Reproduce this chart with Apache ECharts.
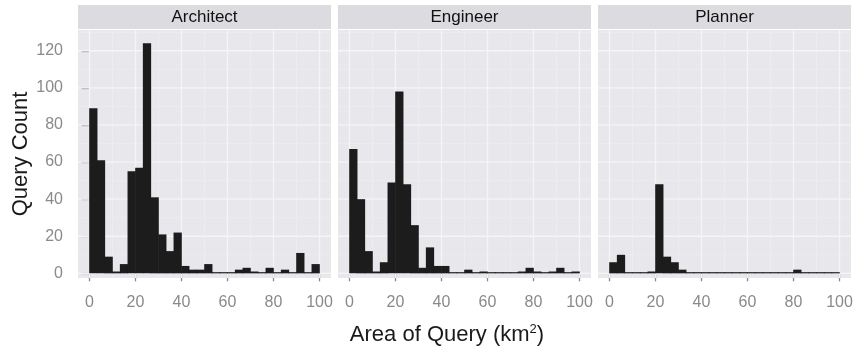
<!DOCTYPE html>
<html>
<head>
<meta charset="utf-8">
<script src="https://cdn.jsdelivr.net/npm/echarts@6/dist/echarts.min.js"></script>
<style>html,body{margin:0;padding:0;background:#fff}#c{width:864px;height:351px}</style>
</head>
<body>
<div id="c"></div>
<script>
// ---- data ----
const facets = ['Architect', 'Engineer', 'Planner'];
const binCount = 30;
const binMin = 0, binMax = 100;
const architectCounts = [89,61,9,1,5,55,57,124,41,21,12,22,4,2,2,5,0,0,0,2,3,1,0,3,0,2,0,11,0,5];
const engineerCounts  = [67,40,12,1,6,49,98,48,26,3,14,4,4,0,0,2,0,1,0,0,0,0,1,3,1,0,1,3,0,1];
const plannerCounts   = [6,10,0,0,0,1,48,9,6,2,0,0,0,0,0,0,0,0,0,0,0,0,0,0,2,0,0,0,0,0];
const xTicks = [0, 20, 40, 60, 80, 100];
const xMinor = [10, 30, 50, 70, 90];
const yTicks = [0, 20, 40, 60, 80, 100, 120];
const yMinor = [10, 30, 50, 70, 90, 110, 130];
const xTitle = 'Area of Query (km{sup|2})';
const yTitle = 'Query Count';

const countsList = [architectCounts, engineerCounts, plannerCounts];
const binW = (binMax - binMin) / binCount;

const FONT = 'Liberation Sans, Arial, Helvetica, sans-serif';
const panelLeft = [78, 338, 598];
const panelW = 253, panelTop = 30, panelH = 248;
const X_MIN = -5, X_MAX = 105, Y_MIN = -2.5, Y_MAX = 131.2;

const grids = [], xAxes = [], yAxes = [], series = [], graphics = [];

facets.forEach((name, i) => {
  grids.push({ left: panelLeft[i], top: panelTop, width: panelW, height: panelH,
    show: true, backgroundColor: '#e8e8ec', borderWidth: 0 });
  xAxes.push({
    type: 'value', gridIndex: i, min: X_MIN, max: X_MAX, offset: 4,
    axisLine: { show: false },
    axisTick: { show: true, length: 8, customValues: xTicks, lineStyle: { color: '#8a8a8a', width: 1.3 } },
    axisLabel: { customValues: xTicks, margin: 13, fontSize: 16, color: '#8a8a8a', fontFamily: FONT },
    splitLine: { show: false }
  });
  yAxes.push({
    type: 'value', gridIndex: i, min: Y_MIN, max: Y_MAX, offset: 3,
    axisLine: { show: false },
    axisTick: { show: i === 0, length: 8, customValues: yTicks, lineStyle: { color: '#8a8a8a', width: 1.3 } },
    axisLabel: { show: i === 0, customValues: yTicks, margin: 12, fontSize: 16, color: '#8a8a8a', fontFamily: FONT },
    splitLine: { show: false },
    name: i === 0 ? yTitle : '', nameLocation: 'middle', nameGap: 40,
    nameTextStyle: { fontSize: 22, color: '#1a1a1a', fontFamily: FONT }
  });
  // grid lines (white) drawn through the axes' scales
  const gridData = [];
  xTicks.forEach(v => gridData.push([v, 'x', 1.3]));
  xMinor.forEach(v => gridData.push([v, 'x', 0.6]));
  yTicks.forEach(v => gridData.push([v, 'y', 1.3]));
  yMinor.forEach(v => gridData.push([v, 'y', 0.6]));
  series.push({
    type: 'custom', xAxisIndex: i, yAxisIndex: i, z: 1, silent: true,
    data: gridData,
    renderItem: (params, api) => {
      const cs = params.coordSys;
      const v = api.value(0), dir = gridData[params.dataIndex][1], w = gridData[params.dataIndex][2];
      let shape;
      if (dir === 'x') {
        const x = api.coord([v, 0])[0];
        shape = { x1: x, y1: cs.y, x2: x, y2: cs.y + cs.height };
      } else {
        const y = api.coord([0, v])[1];
        shape = { x1: cs.x, y1: y, x2: cs.x + cs.width, y2: y };
      }
      return { type: 'line', shape, style: { stroke: w > 1 ? '#f5f5f7' : '#f0f0f3', lineWidth: w } };
    }
  });
  // histogram bars
  const barData = countsList[i].map((c, k) => [binMin + k * binW, binMin + (k + 1) * binW, c]);
  series.push({
    type: 'custom', name, xAxisIndex: i, yAxisIndex: i, z: 3,
    data: barData,
    renderItem: (params, api) => {
      const p0 = api.coord([api.value(0), api.value(2)]);
      const p1 = api.coord([api.value(1), 0]);
      let h = p1[1] - p0[1];
      let y = p0[1];
      if (h < 1.2) { y = p1[1] - 1.2; h = 1.2; }
      return { type: 'rect', shape: { x: p0[0] - 0.3, y: y, width: p1[0] - p0[0] + 0.6, height: h },
        style: { fill: '#1c1c1c' } };
    }
  });
  // facet strip
  graphics.push({ type: 'rect', left: panelLeft[i], top: 5, shape: { width: panelW, height: 24 },
    style: { fill: '#dcdce0' }, z: 0 });
  graphics.push({ type: 'text', x: panelLeft[i] + panelW / 2, y: 17,
    style: { text: name, fontSize: 17, fill: '#111111', fontFamily: FONT, align: 'center', verticalAlign: 'middle' } });
});

graphics.push({ type: 'text', x: 447, y: 335,
  style: { text: xTitle, fontSize: 22, fill: '#1a1a1a', fontFamily: FONT, align: 'center', verticalAlign: 'middle',
    rich: { sup: { fontSize: 13, fontFamily: FONT, fill: '#1a1a1a', verticalAlign: 'top', padding: [0, 0, 12, 0] } } } });

const chart = echarts.init(document.getElementById('c'), null, { renderer: 'canvas' });
chart.setOption({
  animation: false,
  backgroundColor: '#ffffff',
  grid: grids, xAxis: xAxes, yAxis: yAxes, series, graphic: graphics
});
</script>
</body>
</html>
